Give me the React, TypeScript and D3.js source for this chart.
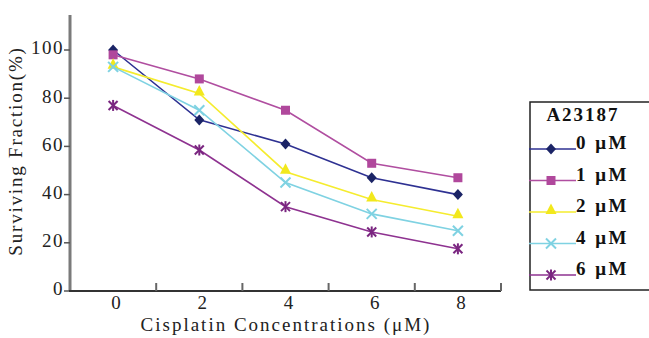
import React from "react";
import * as d3 from "d3";

const categories = ["0", "2", "4", "6", "8"];
const seriesNames = ["0 μM", "1 μM", "2 μM", "4 μM", "6 μM"];
const s0 = [100, 71, 61, 47, 40];
const s1 = [98, 88, 75, 53, 47];
const s2 = [93, 82, 49.5, 38, 31];
const s3 = [93, 75, 45, 32, 25];
const s4 = [77, 58.5, 35, 24.5, 17.5];
const yTicks = [0, 20, 40, 60, 80, 100];
const legendTitle = "A23187";
const xTitle = "Cisplatin Concentrations (μM)";
const yTitle = "Surviving Fraction(%)";

const seriesValues = [s0, s1, s2, s3, s4];
const lineColors = ["#2e3192", "#b04ea0", "#f5ec2e", "#7fd2e2", "#8e3290"];
const markerColors = ["#1b2466", "#b0489c", "#f2e81c", "#7fd2e2", "#7a2680"];
const markerTypes = ["diamond", "square", "triangle", "x", "asterisk"];

const FONT = "'Liberation Serif', 'Times New Roman', serif";

function Marker({ type, x, y, color }: { type: string; x: number; y: number; color: string }) {
  if (type === "diamond") {
    return <path d={`M${x},${y - 5.5}L${x + 5},${y}L${x},${y + 5.5}L${x - 5},${y}Z`} fill={color} />;
  }
  if (type === "square") {
    return <rect x={x - 4.5} y={y - 4.5} width={9} height={9} fill={color} />;
  }
  if (type === "triangle") {
    const cy = y - 2.5;
    return <path d={`M${x},${cy - 6}L${x + 5.5},${cy + 4.5}L${x - 5.5},${cy + 4.5}Z`} fill={color} />;
  }
  if (type === "x") {
    return (
      <g stroke={color} strokeWidth={2}>
        <line x1={x - 5} y1={y - 5} x2={x + 5} y2={y + 5} />
        <line x1={x - 5} y1={y + 5} x2={x + 5} y2={y - 5} />
      </g>
    );
  }
  return (
    <g stroke={color} strokeWidth={2}>
      <line x1={x - 4.5} y1={y - 4.5} x2={x + 4.5} y2={y + 4.5} />
      <line x1={x - 4.5} y1={y + 4.5} x2={x + 4.5} y2={y - 4.5} />
      <line x1={x} y1={y - 5.5} x2={x} y2={y + 5.5} />
    </g>
  );
}

export default function App() {
  const W = 649;
  const H = 338;
  const x0 = 70;
  const x1 = 501;
  const yBase = 291;
  const yTop = 15;

  const x = d3.scaleBand<string>().domain(categories).range([x0, x1]).padding(0);
  const y = d3.scaleLinear().domain([0, 100]).range([yBase, 50]);

  const line = d3
    .line<number>()
    .x((_, i) => (x(categories[i]) as number) + x.bandwidth() / 2)
    .y((d) => y(d));

  const boundaries = categories.map((c) => (x(c) as number) + x.bandwidth());

  const legendX = 530;
  const legendY = 102;
  const rowY0 = 149;
  const rowStep = 31.5;

  return (
    <svg
      width={W}
      height={H}
      style={{ position: "absolute", left: 0, top: 0, background: "#fff" }}
      fontFamily={FONT}
    >
      {/* Y axis */}
      <line x1={x0} y1={yTop} x2={x0} y2={yBase} stroke="#7a7a7a" strokeWidth={3} />
      {yTicks.map((t) => (
        <g key={t}>
          <line x1={x0 - 6} y1={y(t)} x2={x0} y2={y(t)} stroke="#555" strokeWidth={1.5} />
          <text
            x={x0 - 6}
            y={y(t)}
            textAnchor="end"
            dominantBaseline="middle"
            fontSize={19}
            letterSpacing={1.5}
            fill="#222"
          >
            {t}
          </text>
        </g>
      ))}
      {/* X axis */}
      <line x1={x0 - 1} y1={yBase} x2={x1} y2={yBase} stroke="#333" strokeWidth={2} />
      {boundaries.map((b, i) => (
        <line key={i} x1={b} y1={yBase} x2={b} y2={yBase - 8} stroke="#666" strokeWidth={2} />
      ))}
      {categories.map((c) => (
        <text
          key={c}
          x={(x(c) as number) + x.bandwidth() / 2 + 3}
          y={305}
          textAnchor="middle"
          dominantBaseline="middle"
          fontSize={19}
          fill="#222"
        >
          {c}
        </text>
      ))}
      <text x={286} y={327} textAnchor="middle" dominantBaseline="middle" fontSize={19} letterSpacing={2} fill="#222">
        {xTitle}
      </text>
      <text
        transform={`translate(18,151) rotate(-90)`}
        textAnchor="middle"
        dominantBaseline="middle"
        fontSize={19}
        letterSpacing={1.8}
        fill="#222"
      >
        {yTitle}
      </text>

      {/* Series */}
      {seriesValues.map((vals, si) => (
        <g key={si}>
          <path d={line(vals) || ""} fill="none" stroke={lineColors[si]} strokeWidth={1.6} />
          {vals.map((v, i) => (
            <Marker
              key={i}
              type={markerTypes[si]}
              x={(x(categories[i]) as number) + x.bandwidth() / 2}
              y={y(v)}
              color={markerColors[si]}
            />
          ))}
        </g>
      ))}

      {/* Legend */}
      <rect x={legendX} y={legendY} width={140} height={188} fill="none" stroke="#222" strokeWidth={1.5} />
      <text x={583} y={117} textAnchor="middle" dominantBaseline="middle" fontSize={19} fontWeight="bold" letterSpacing={2} fill="#111">
        {legendTitle}
      </text>
      {seriesNames.map((n, i) => {
        const ry = rowY0 + i * rowStep;
        return (
          <g key={n}>
            <line x1={529} y1={ry} x2={576} y2={ry} stroke={lineColors[i]} strokeWidth={1.6} />
            <Marker type={markerTypes[i]} x={551} y={ry} color={markerColors[i]} />
            <text x={576} y={ry - 4} dominantBaseline="middle" fontSize={19} fontWeight="bold" letterSpacing={2.5} fill="#111">
              {n}
            </text>
          </g>
        );
      })}
    </svg>
  );
}
